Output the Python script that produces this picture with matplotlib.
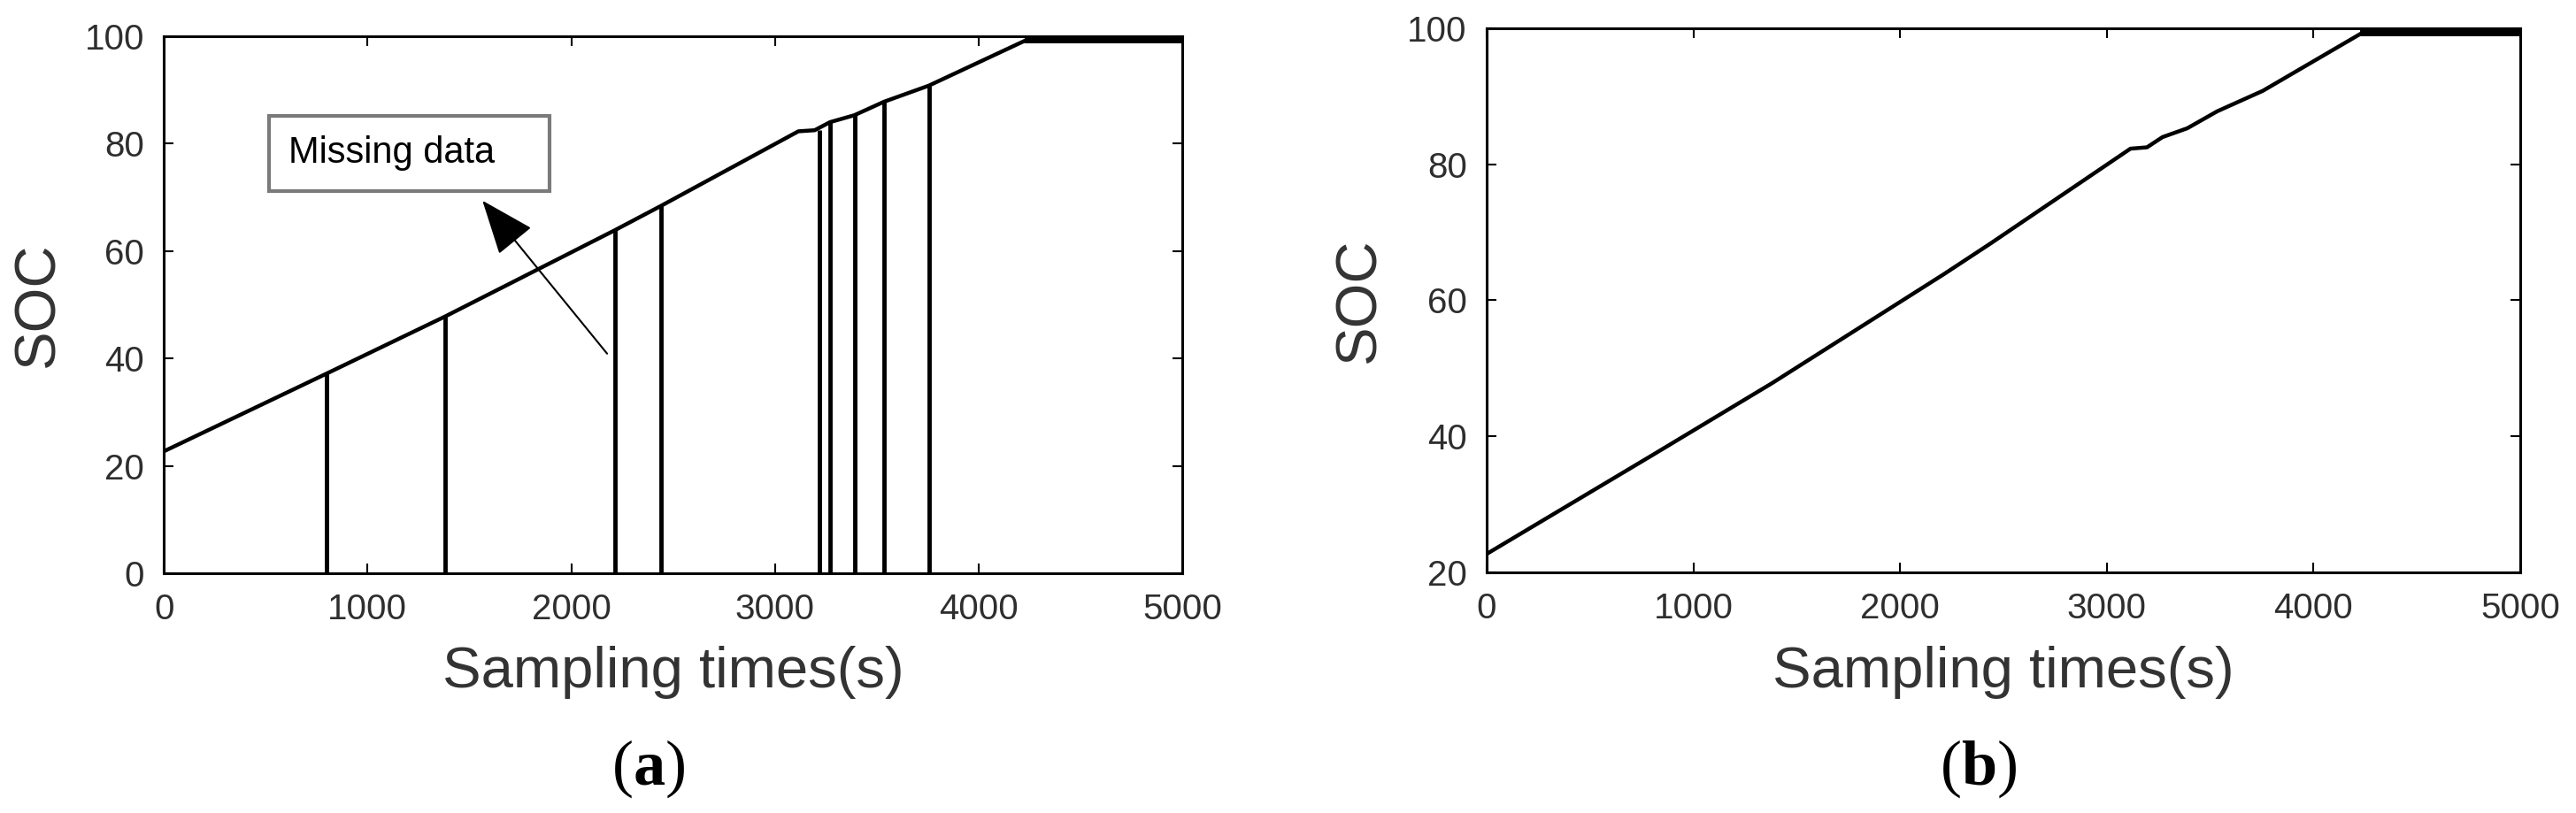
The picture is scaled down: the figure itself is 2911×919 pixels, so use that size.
import numpy as np
import matplotlib.pyplot as plt
from matplotlib.patches import Rectangle

plt.rcParams['font.family'] = ['Liberation Sans', 'DejaVu Sans']
plt.rcParams['mathtext.fontset'] = 'custom'
plt.rcParams['mathtext.rm'] = 'Liberation Serif'
plt.rcParams['mathtext.bf'] = 'Liberation Serif:bold'

# SOC curve knots (sampling time in s, SOC in %)
soc_t = [0, 800, 1380, 2215, 2440, 3115, 3195, 3270, 3390, 3535, 3755, 4240, 5000]
soc_v = [22.7, 37.2, 47.8, 63.9, 68.4, 82.3, 82.5, 84.0, 85.3, 87.8, 90.8, 99.4, 99.4]

# missing-data drops in panel (a): time of drop and SOC just before it
gap_t = [800, 1380, 2215, 2440, 3220, 3270, 3390, 3535, 3755]
gap_top = [37.2, 47.8, 63.9, 68.4, 82.6, 84.0, 85.3, 87.8, 90.8]

x_ticks = [0, 1000, 2000, 3000, 4000, 5000]
y_ticks_a = [0, 20, 40, 60, 80, 100]
y_ticks_b = [20, 40, 60, 80, 100]

tick_color = '#2e2e2e'
label_color = '#333333'

fig = plt.figure(figsize=(29.11, 9.19), dpi=100)
ax_a = fig.add_axes([0.0636, 0.2949, 0.3954, 0.6605])
ax_b = fig.add_axes([0.5771, 0.2960, 0.4012, 0.6692])

t = np.array(soc_t)
v = np.array(soc_v)
flat = v >= 99

# (a) data with missing samples
ax_a.plot(t, v, color='black', lw=3.2)
ax_a.plot(t[flat], v[flat], color='black', lw=5)
ax_a.vlines(gap_t, 0, gap_top, colors='black', lw=3.5)

# (b) complete data
ax_b.plot(t, v, color='black', lw=3.2)
ax_b.plot(t[flat], v[flat], color='black', lw=5)

for ax, yt in [(ax_a, y_ticks_a), (ax_b, y_ticks_b)]:
    ax.set_xlim(0, 5000)
    ax.set_ylim(yt[0], yt[-1])
    ax.set_xticks(x_ticks)
    ax.set_yticks(yt)
    ax.tick_params(direction='in', length=8, width=1.5, top=True, right=True,
                   labelsize=29, labelcolor=tick_color, pad=16)
    for s in ax.spines.values():
        s.set_linewidth(2.2)
        s.set_color('black')
    ax.set_xlabel('Sampling times(s)', fontsize=47, color=label_color)
    ax.xaxis.set_label_coords(0.5, -0.135)
    ax.set_ylabel('SOC', fontsize=47, color=label_color, va='center')
    ax.yaxis.set_label_coords(-0.123, 0.5)

# "Missing data" callout
ax_a.add_patch(Rectangle((517, 71.2), 1377, 14.0, facecolor='white',
                         edgecolor='#7a7a7a', lw=3, zorder=5))
ax_a.text(612, 78.3, 'Missing data', fontsize=30, color='black',
          ha='left', va='center', zorder=6)
ax_a.annotate('', xy=(1564, 69.4), xytext=(2176, 40.9),
              arrowprops=dict(arrowstyle='-|>,head_length=1.4,head_width=0.55',
                              color='black', lw=1.5, mutation_scale=28,
                              shrinkA=0, shrinkB=0),
              zorder=6)

# panel tags
fig.text(0.2518, 0.0544, r'($\mathbf{a}$)', fontsize=52, family='Liberation Serif',
         ha='center', va='center')
fig.text(0.7678, 0.0544, r'($\mathbf{b}$)', fontsize=52, family='Liberation Serif',
         ha='center', va='center')

plt.savefig('out.png', dpi=100)
